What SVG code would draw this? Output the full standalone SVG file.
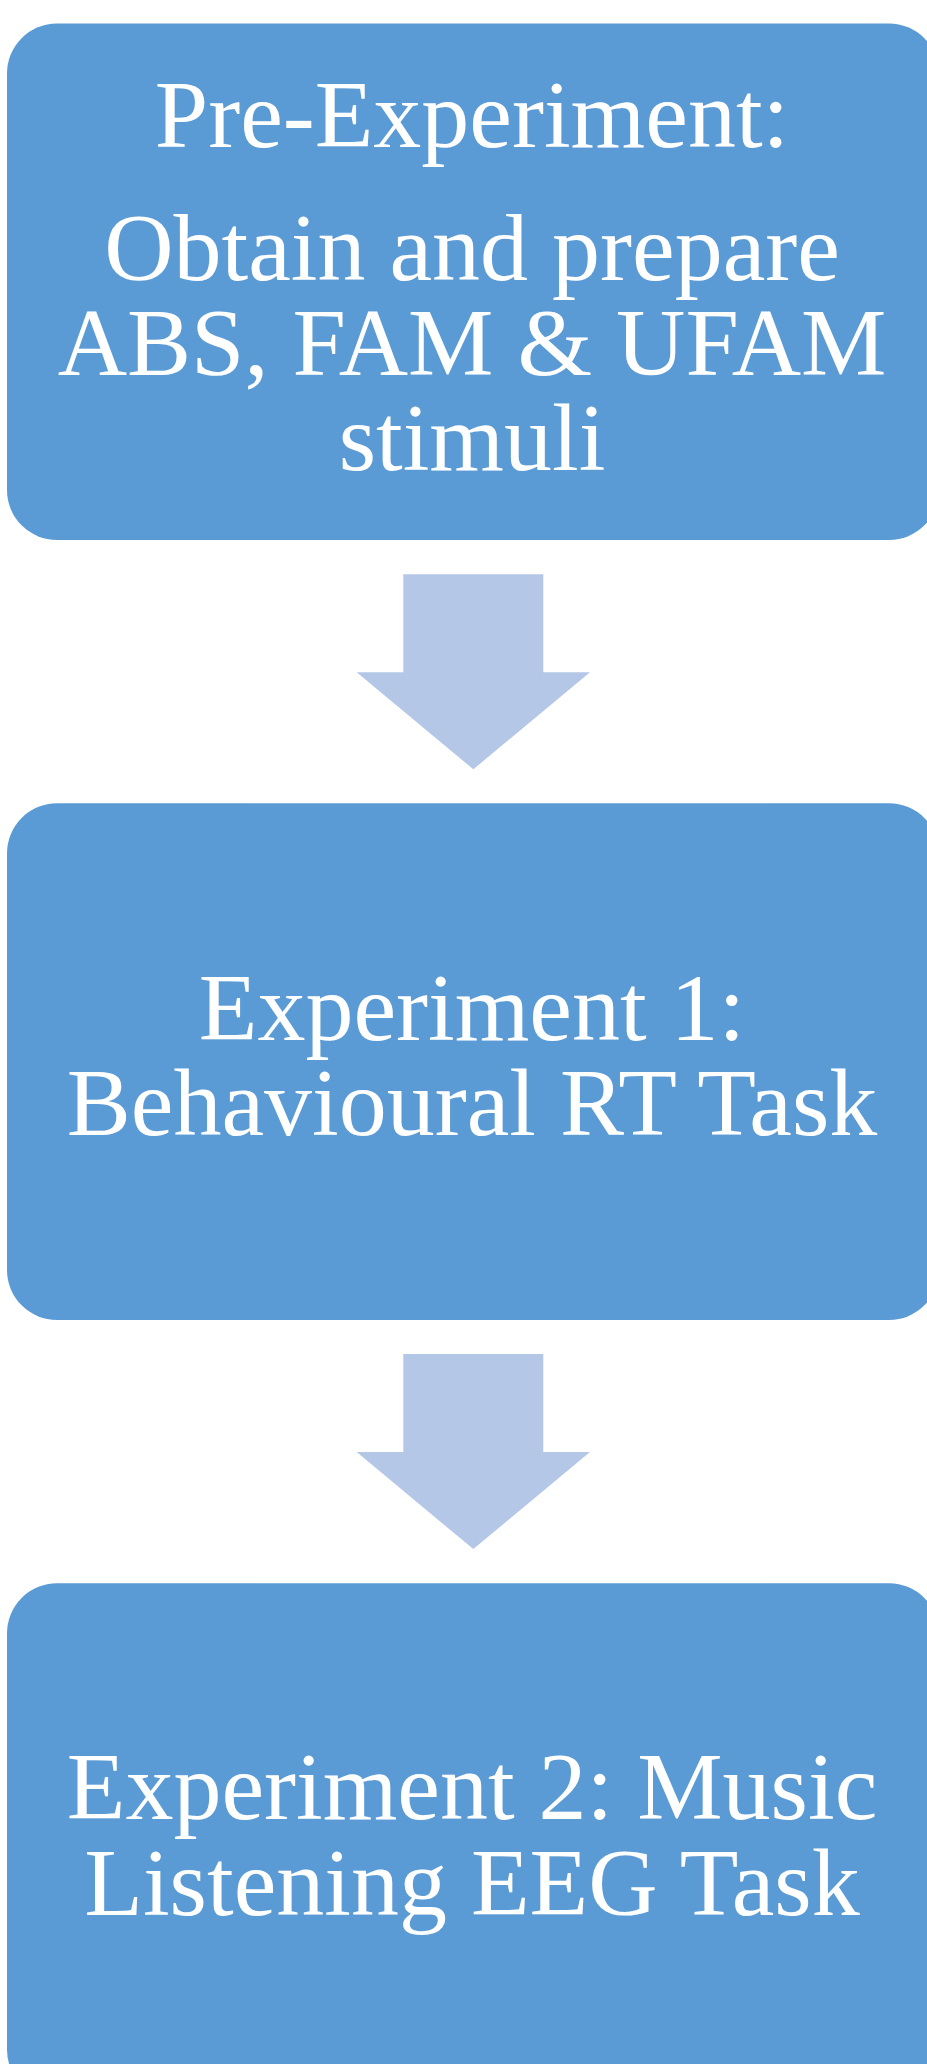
<svg xmlns="http://www.w3.org/2000/svg" width="927" height="2064" viewBox="0 0 927 2064">
  <style>
    .box { fill: #5B9BD5; }
    .arrow { fill: #B4C7E7; }
    .label { font-family: "Liberation Serif", "Times New Roman", serif; font-size: 96px; fill: #FFFFFF; text-anchor: middle; }
  </style>
  <rect width="927" height="2064" fill="#FFFFFF"/>

  <!-- connectors: block arrows between stages -->
  <g id="connectors">
    <polygon class="arrow" points="403.3,574.3 543.3,574.3 543.3,672.3 590,672.3 473.3,769.3 356.7,672.3 403.3,672.3"/>
    <polygon class="arrow" points="403.3,1354.1 543.3,1354.1 543.3,1452.1 590,1452.1 473.3,1549.1 356.7,1452.1 403.3,1452.1"/>
  </g>

  <g id="pre-experiment">
    <rect class="box" x="7" y="23.5" width="932" height="516.5" rx="50" ry="50"/>
    <text class="label" x="472" y="147">Pre-Experiment:</text>
    <text class="label" x="472" y="280">Obtain and prepare</text>
    <text class="label" x="472" y="375">ABS, FAM &amp; UFAM</text>
    <text class="label" x="472" y="470">stimuli</text>
  </g>

  <g id="experiment-1">
    <rect class="box" x="7" y="803.3" width="932" height="516.7" rx="50" ry="50"/>
    <text class="label" x="472" y="1040">Experiment 1:</text>
    <text class="label" x="472" y="1135">Behavioural RT Task</text>
  </g>

  <g id="experiment-2">
    <rect class="box" x="7" y="1583.3" width="932" height="516.5" rx="50" ry="50"/>
    <text class="label" x="472" y="1819">Experiment 2: Music</text>
    <text class="label" x="472" y="1915">Listening EEG Task</text>
  </g>
</svg>
